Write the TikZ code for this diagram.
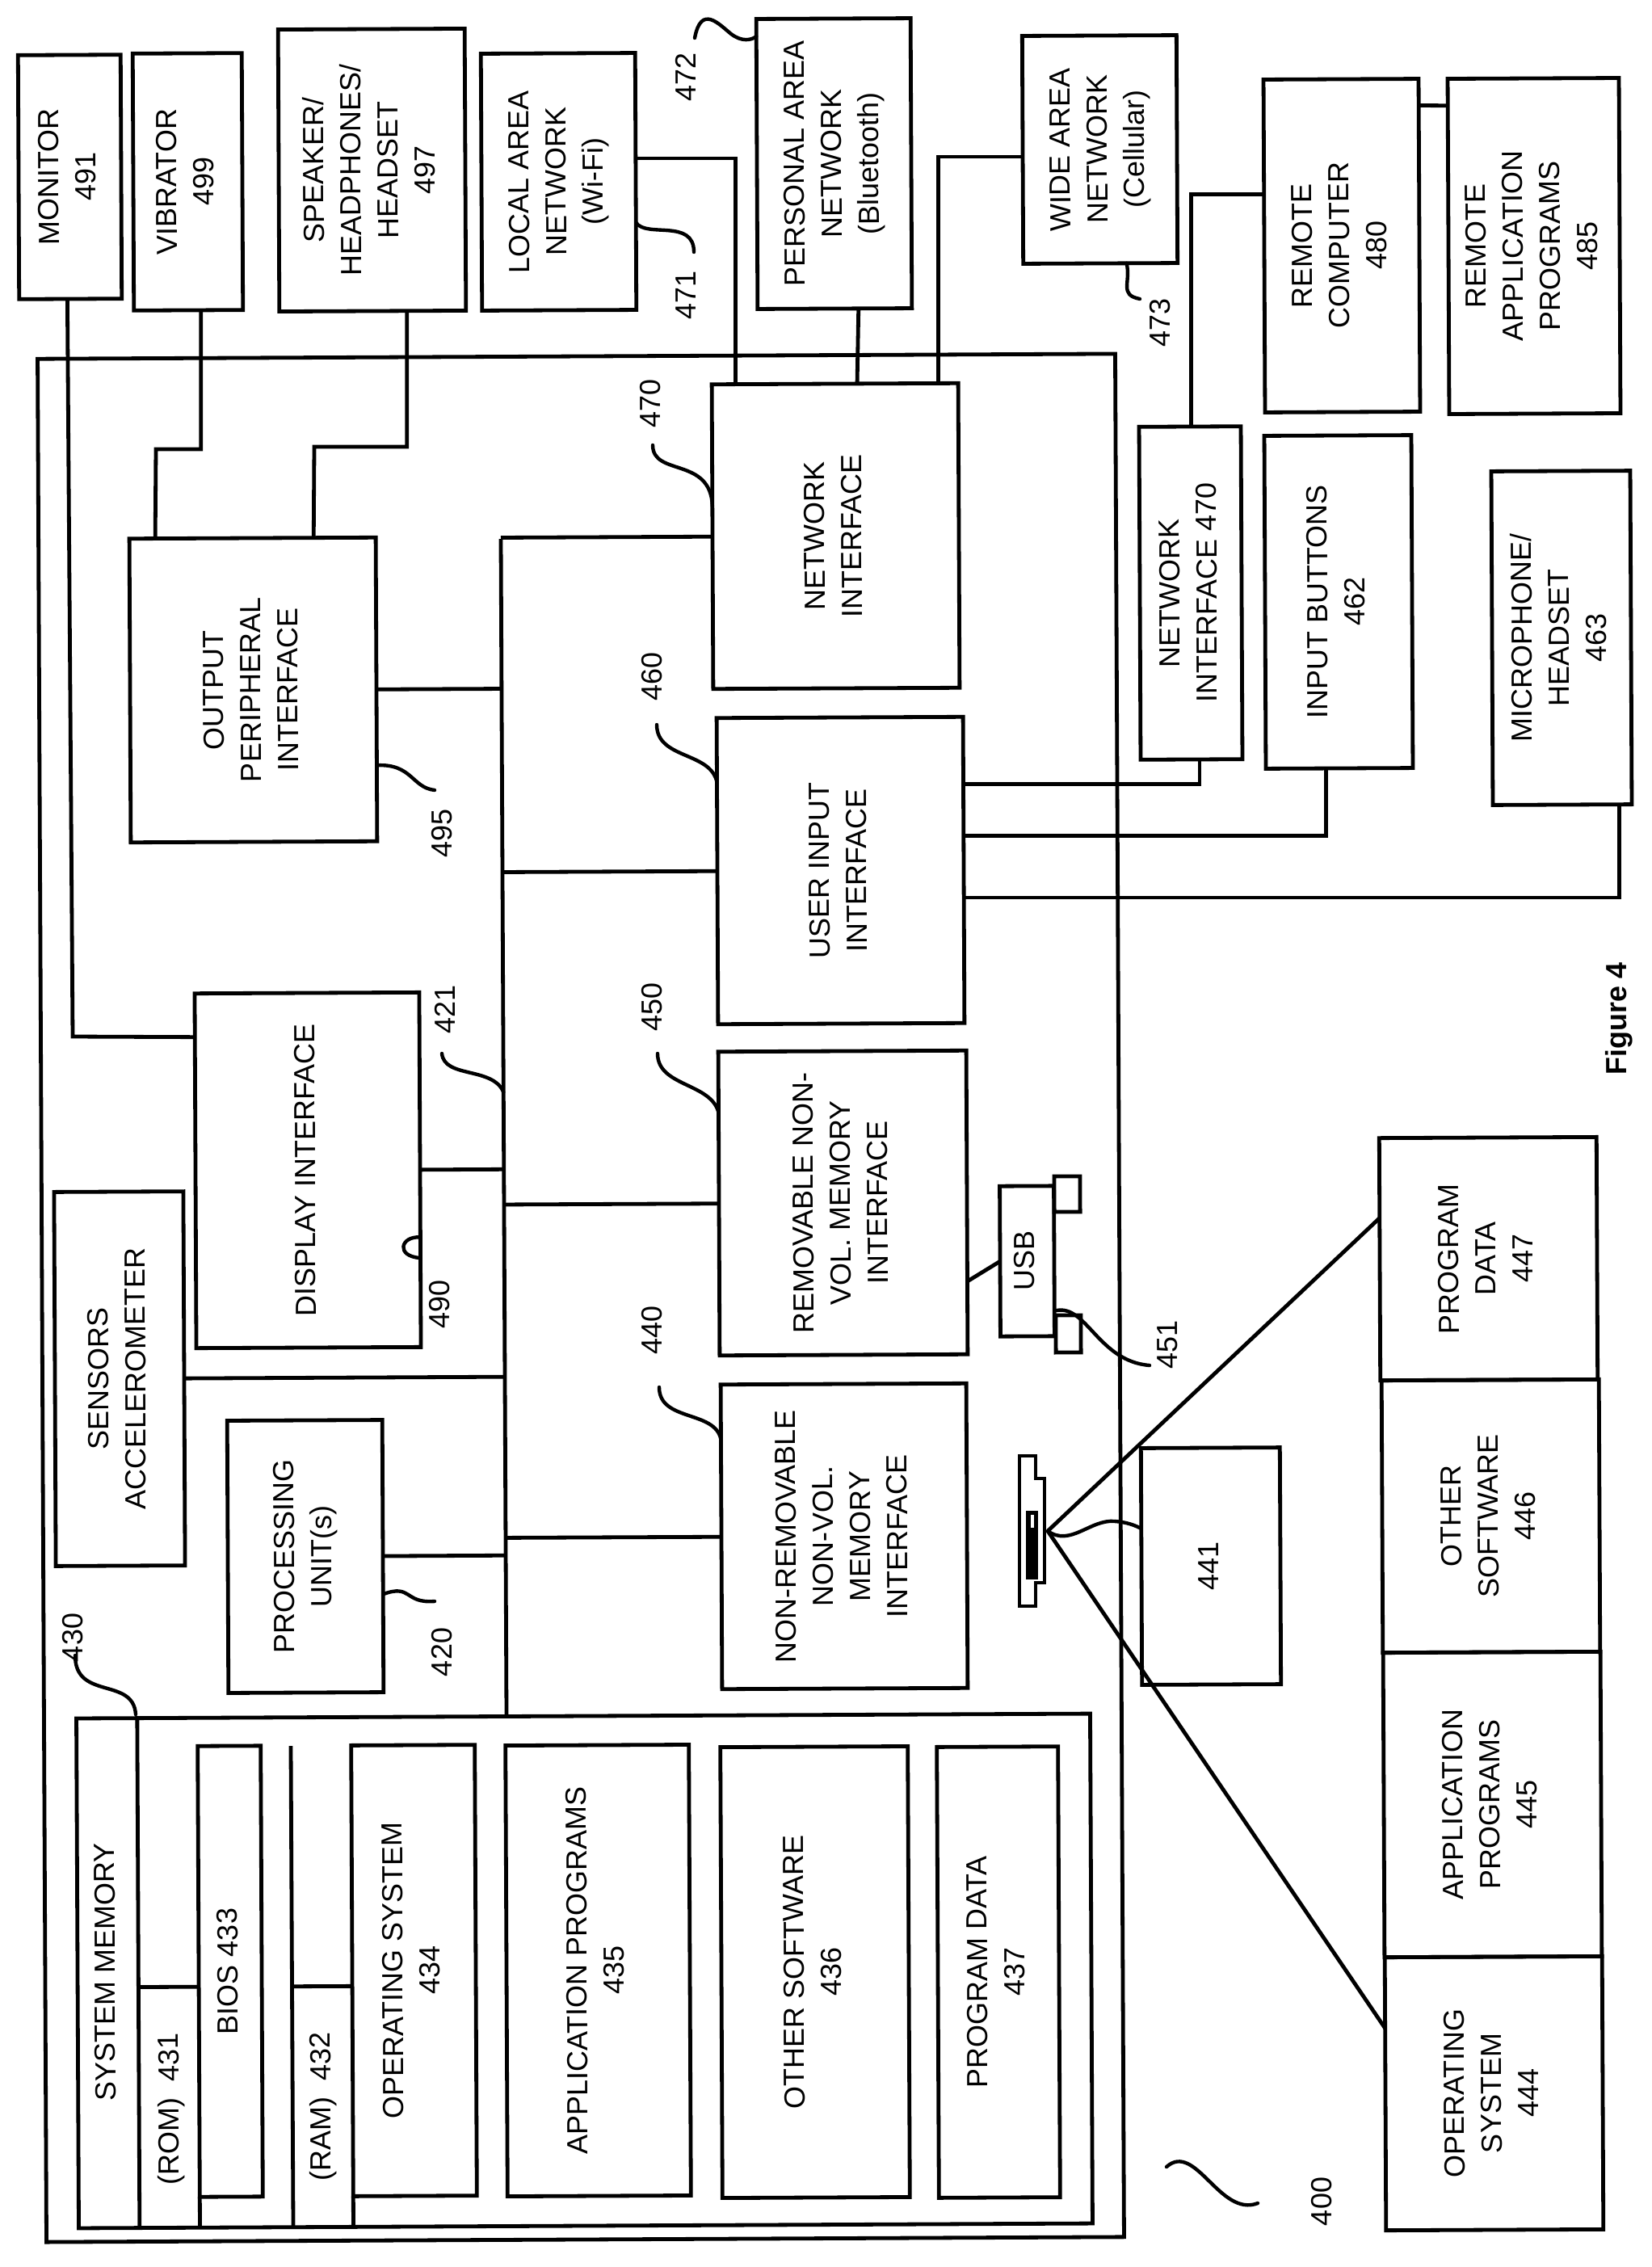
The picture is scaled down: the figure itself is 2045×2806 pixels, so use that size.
\documentclass[tikz,border=0pt]{standalone}
\usepackage{fontspec}
\setmainfont{Liberation Sans}
\usetikzlibrary{calc}
\tikzset{
  boxnode/.style={draw=black,line width=2.4pt,inner sep=0pt,outer sep=0pt,rotate=.27,font=\fontsize{18}{23}\selectfont},
  lbl/.style={inner sep=0pt,rotate=90.27,align=center,font=\fontsize{18}{23}\selectfont},
  conn/.style={draw=black,line width=2.4pt,line join=miter},
  leader/.style={draw=black,line width=2.2pt,line cap=round}
}
\newcommand\bx[6]{%
  \pgfmathsetmacro\bxw{(#4-#2)*.5}\pgfmathsetmacro\bxh{(#5-#3)*.5}%
  \pgfmathsetmacro\bxcx{(#2+#4)/2}\pgfmathsetmacro\bxcy{(#3+#5)/2}%
  \node[boxnode,minimum width=\bxw pt,minimum height=\bxh pt] (#1) at (\bxcx,\bxcy)
    {\rotatebox{90}{\begin{tabular}{@{}c@{}}#6\end{tabular}}};}
\newcommand\onL[2]{($(#1.north west)!#2!(#1.south west)$)}
\newcommand\onR[2]{($(#1.north east)!#2!(#1.south east)$)}
\newcommand\onT[2]{($(#1.north west)!#2!(#1.north east)$)}
\newcommand\onB[2]{($(#1.south west)!#2!(#1.south east)$)}
\begin{document}
\begin{tikzpicture}[x=.5pt,y=-.5pt]
\useasboundingbox (0,0) rectangle (2045,2806);
% frames
\bx{frame}{52}{441}{1386}{2772}{}
\bx{sysmem}{96}{2124}{1351}{2755}{}
% external top row
\bx{monitor}{23}{68}{150}{370}{MONITOR\\491}
\bx{vib}{165}{66}{300}{384}{VIBRATOR\\499}
\bx{speaker}{345}{36}{576}{385}{SPEAKER/\\HEADPHONES/\\HEADSET\\497}
\bx{lan}{596}{66}{787}{384}{LOCAL AREA\\NETWORK\\(Wi-Fi)}
\bx{pan}{937}{23}{1128}{382}{PERSONAL AREA\\NETWORK\\(Bluetooth)}
\bx{wan}{1266}{44}{1457}{326}{WIDE AREA\\NETWORK\\(Cellular)}
\bx{remote}{1565}{98}{1757}{510}{REMOTE\\COMPUTER\\480}
\bx{rapp}{1793}{97}{2005}{512}{REMOTE\\APPLICATION\\PROGRAMS\\485}
\bx{netif2}{1411}{528}{1537}{940}{NETWORK\\INTERFACE 470}
\bx{buttons}{1566}{539}{1748}{951}{INPUT BUTTONS\\462}
\bx{mic}{1847}{583}{2019}{996}{MICROPHONE/\\HEADSET\\463}
% inner
\bx{output}{161}{666}{466}{1042}{OUTPUT\\PERIPHERAL\\INTERFACE}
\bx{netif}{882}{475}{1187}{852}{NETWORK\\INTERFACE}
\bx{userif}{888}{888}{1193}{1267}{USER INPUT\\INTERFACE}
\bx{remif}{890}{1301}{1197}{1677}{REMOVABLE NON-\\VOL. MEMORY\\INTERFACE}
\bx{nonrem}{893}{1713}{1197}{2090}{NON-REMOVABLE\\NON-VOL.\\MEMORY\\INTERFACE}
\bx{display}{242}{1229}{520}{1668}{DISPLAY INTERFACE}
\bx{sensors}{68}{1475}{228}{1938}{SENSORS\\ACCELEROMETER}
\bx{cpu}{282}{1758}{474}{2095}{PROCESSING\\UNIT(s)}
% system memory content
\bx{bios}{246}{2161}{324}{2719}{BIOS 433}
\bx{os34}{436}{2160}{589}{2718}{OPERATING SYSTEM\\434}
\bx{app35}{627}{2160}{854}{2718}{APPLICATION PROGRAMS\\435}
\bx{oth36}{893}{2162}{1125}{2720}{OTHER SOFTWARE\\436}
\bx{dat37}{1161}{2162}{1311}{2720}{PROGRAM DATA\\437}
% usb and disk
\bx{usb}{1238}{1468}{1305}{1654}{USB}
\bx{usba}{1305}{1456}{1337}{1500}{}
\bx{usbb}{1307}{1628}{1338}{1674}{}
\bx{d441}{1413}{1792}{1585}{2085}{441}
% lower right
\bx{pd47}{1708}{1408}{1977}{1708}{PROGRAM\\DATA\\447}
\bx{os46}{1711}{1708}{1980}{2045}{OTHER\\SOFTWARE\\446}
\bx{os45}{1713}{2045}{1982}{2422}{APPLICATION\\PROGRAMS\\445}
\bx{os44}{1715}{2422}{1984}{2760}{OPERATING\\SYSTEM\\444}
% disk icon
\draw[conn] (1262,1802)--(1282,1802)--(1282,1830)--(1293,1830)--(1293,1959)--(1282,1959)--(1282,1988)--(1262,1988)--cycle;
\fill[black] (1270,1870) rectangle (1285,1955);
\fill[white] (1276,1875) rectangle (1280,1891);
\coordinate (disktip) at (1297,1895);
\draw[conn] (disktip) -- \onL{pd47}{.33};
\draw[conn] (disktip) -- \onL{os44}{.26};
\draw[leader] (disktip) .. controls (1325,1915) and (1350,1880) .. (1380,1883) .. controls (1395,1884) and (1405,1888) .. \onL{d441}{.34};
\draw[conn] \onR{remif}{.76} -- \onL{usb}{.5};
% bus
\coordinate (bustop) at (620,667);
\coordinate (busbot) at (627,2124);
\draw[conn] (bustop) -- (busbot);
\foreach \n in {netif,userif,remif,nonrem}{\draw[conn] (\n.west) -- ($(bustop)!(\n.west)!(busbot)$);}
\foreach \n in {output,display,sensors,cpu}{\draw[conn] (\n.east) -- ($(bustop)!(\n.east)!(busbot)$);}
% external connectors
\coordinate (monbend) at (90,1283);
\draw[conn] \onB{monitor}{.47} -- (monbend) -- \onL{display}{.123};
\coordinate (vibbend) at (193,556);
\draw[conn] \onB{vib}{.615} |- (vibbend) -- \onT{output}{.105};
\coordinate (spkbend) at (389,553);
\draw[conn] \onB{speaker}{.684} |- (spkbend) -- \onT{output}{.748};
\draw[conn] \onR{lan}{.41} -| \onT{netif}{.095};
\draw[conn] \onB{pan}{.654} -- \onT{netif}{.59};
\draw[conn] \onL{wan}{.53} -| \onT{netif}{.918};
\draw[conn] \onT{netif2}{.51} |- \onL{remote}{.345};
\draw[conn] \onR{remote}{.08} -- \onL{rapp}{.08};
\draw[conn] \onR{userif}{.22} -| \onB{netif2}{.58};
\draw[conn] \onR{userif}{.388} -| \onB{buttons}{.41};
\draw[conn] \onR{userif}{.59} -| \onB{mic}{.91};
% system memory lines
\coordinate (dtop) at ($(sysmem.north west)!.06!(sysmem.north east)$);
\coordinate (dbot) at ($(sysmem.south west)!.06!(sysmem.south east)$);
\draw[conn] (dtop) -- (dbot);
\coordinate (romj) at ($(bios.north west)!.534!(bios.south west)$);
\draw[conn] (romj) -- ($(dtop)!(romj)!(dbot)$);
\draw[conn] (bios.south west) -- ($(sysmem.south west)!(bios.south west)!(sysmem.south east)$);
\coordinate (ramtop) at (360,2161);
\coordinate (rambot) at (363,2755);
\draw[conn] (ramtop) -- (rambot);
\coordinate (ramj) at ($(os34.north west)!.534!(os34.south west)$);
\draw[conn] (ramj) -- ($(ramtop)!(ramj)!(rambot)$);
\draw[conn] (os34.south west) -- ($(sysmem.south west)!(os34.south west)!(sysmem.south east)$);
% labels
\node[lbl] (tsys) at (130,2441) {SYSTEM MEMORY};
\node[lbl] (trom) at (212,2610) {(ROM)\ \ 431};
\node[lbl] (tram) at (400,2607) {(RAM)\ \ 432};
\node[lbl,font=\fontsize{18}{23}\selectfont\bfseries] (tfig) at (2004,1261) {Figure 4};
\node[lbl] (t470) at (805,500) {470};
\node[lbl] (t471) at (849,366) {471};
\node[lbl] (t472) at (849,96) {472};
\node[lbl] (t473) at (1436,400) {473};
\node[lbl] (t495) at (547,1032) {495};
\node[lbl] (t490) at (544,1615) {490};
\node[lbl] (t421) at (551,1250) {421};
\node[lbl] (t460) at (807,838) {460};
\node[lbl] (t450) at (807,1247) {450};
\node[lbl] (t440) at (807,1647) {440};
\node[lbl] (t420) at (547,2045) {420};
\node[lbl] (t430) at (90,2027) {430};
\node[lbl] (t451) at (1445,1665) {451};
\node[lbl] (t400) at (1636,2725) {400};
% leaders
\coordinate (c470) at (808,551);
\draw[leader] (c470) .. controls (808,590) and (880,565) .. \onL{netif}{.4};
\coordinate (c471) at (859,312);
\draw[leader] \onR{lan}{.66} .. controls (800,295) and (859,270) .. (c471);
\coordinate (c472) at (860,47);
\draw[leader] (c472) .. controls (868,5) and (890,30) .. (905,42) .. controls (918,52) and (930,50) .. \onL{pan}{.06};
\coordinate (c473) at (1411,370);
\draw[leader] \onB{wan}{.67} .. controls (1400,350) and (1385,365) .. (c473);
\coordinate (c495) at (538,978);
\draw[leader] \onR{output}{.75} .. controls (510,945) and (510,975) .. (c495);
\coordinate (c490) at (520,1557);
\draw[leader] \onR{display}{.69} .. controls (495,1530) and (490,1555) .. (c490);
\coordinate (c421) at (547,1304);
\draw[leader] ($(bustop)!.47!(busbot)$) .. controls (610,1320) and (550,1335) .. (c421);
\coordinate (c460) at (813,897);
\draw[leader] \onL{userif}{.21} .. controls (880,930) and (813,940) .. (c460);
\coordinate (c450) at (814,1304);
\draw[leader] \onL{remif}{.2} .. controls (880,1340) and (814,1345) .. (c450);
\coordinate (c440) at (816,1717);
\draw[leader] \onL{nonrem}{.18} .. controls (885,1745) and (816,1760) .. (c440);
\coordinate (c420) at (538,1982);
\draw[leader] \onR{cpu}{.64} .. controls (510,1960) and (500,1985) .. (c420);
\coordinate (c430) at (93,2049);
\draw[leader] (c430) .. controls (93,2105) and (165,2075) .. (168,2122);
\coordinate (c451) at (1423,1690);
\draw[leader] (1308,1622) .. controls (1345,1615) and (1360,1685) .. (c451);
\coordinate (c400a) at (1444,2682);
\coordinate (c400b) at (1557,2727);
\draw[leader] (c400a) .. controls (1480,2650) and (1510,2745) .. (c400b);
\end{tikzpicture}
\end{document}
